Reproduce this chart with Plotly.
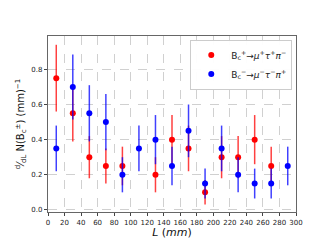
import plotly.graph_objects as go

L_plus = [10, 30, 50, 70, 90, 130, 150, 170, 190, 210, 230, 250, 270]
N_plus = [0.75, 0.55, 0.30, 0.25, 0.25, 0.20, 0.40, 0.35, 0.10, 0.30, 0.30, 0.40, 0.25]
E_plus = [0.19, 0.16, 0.12, 0.10, 0.11, 0.10, 0.14, 0.13, 0.07, 0.12, 0.12, 0.14, 0.11]

L_minus = [10, 30, 50, 70, 90, 110, 130, 150, 170, 190, 210, 230, 250, 270, 290]
N_minus = [0.35, 0.70, 0.55, 0.50, 0.20, 0.35, 0.40, 0.25, 0.45, 0.15, 0.35, 0.20, 0.15, 0.15, 0.25]
E_minus = [0.13, 0.185, 0.16, 0.16, 0.10, 0.13, 0.14, 0.11, 0.15, 0.085, 0.13, 0.10, 0.085, 0.085, 0.11]

fig = go.Figure()
fig.add_trace(go.Scatter(
    x=L_plus, y=N_plus, mode="markers",
    name="B<sub>c</sub><sup>+</sup>→<i>μ</i><sup>+</sup><i>τ</i><sup>+</sup><i>π</i><sup>−</sup>",
    marker=dict(color="red", size=6),
    error_y=dict(type="data", array=E_plus, color="rgba(255,0,0,0.75)", thickness=1.5, width=0),
))
fig.add_trace(go.Scatter(
    x=L_minus, y=N_minus, mode="markers",
    name="B<sub>c</sub><sup>−</sup>→<i>μ</i><sup>−</sup><i>τ</i><sup>−</sup><i>π</i><sup>+</sup>",
    marker=dict(color="blue", size=6),
    error_y=dict(type="data", array=E_minus, color="rgba(0,0,255,0.75)", thickness=1.5, width=0),
))

axis_common = dict(
    showline=True, mirror=True, linecolor="#666", linewidth=1.2,
    ticks="outside", ticklen=3, tickcolor="#444",
    showgrid=True, gridcolor="#d0d0d0", griddash="dash", gridwidth=0.8,
    zeroline=False, tickangle=0,
    tickfont=dict(family="DejaVu Sans", size=7, color="#222"),
)

fig.update_xaxes(range=[0, 300], dtick=20, tick0=0,
                 title=dict(text="<i>L</i> (<i>mm</i>)", font=dict(family="DejaVu Sans", size=11, color="#111"), standoff=2),
                 **axis_common)
fig.update_yaxes(range=[-0.012, 0.99], dtick=0.2, tick0=0, tickformat=".1f",
                 title=dict(text="<sup>d</sup>⁄<sub>dL</sub> N(B<sub>c</sub><sup>±</sup>) (mm)<sup>−1</sup>",
                            font=dict(family="DejaVu Sans", size=10, color="#111"), standoff=4),
                 **axis_common)

fig.update_layout(
    width=320, height=240,
    margin=dict(l=40, r=32, t=28, b=27),
    paper_bgcolor="white", plot_bgcolor="white",
    showlegend=True,
    legend=dict(x=0.985, y=0.98, xanchor="right", yanchor="top",
                bgcolor="rgba(255,255,255,0.95)", bordercolor="#cccccc", borderwidth=1,
                font=dict(family="DejaVu Sans", size=9, color="#222"),
                itemwidth=30, tracegroupgap=0),
)

fig.write_html("out.html")
